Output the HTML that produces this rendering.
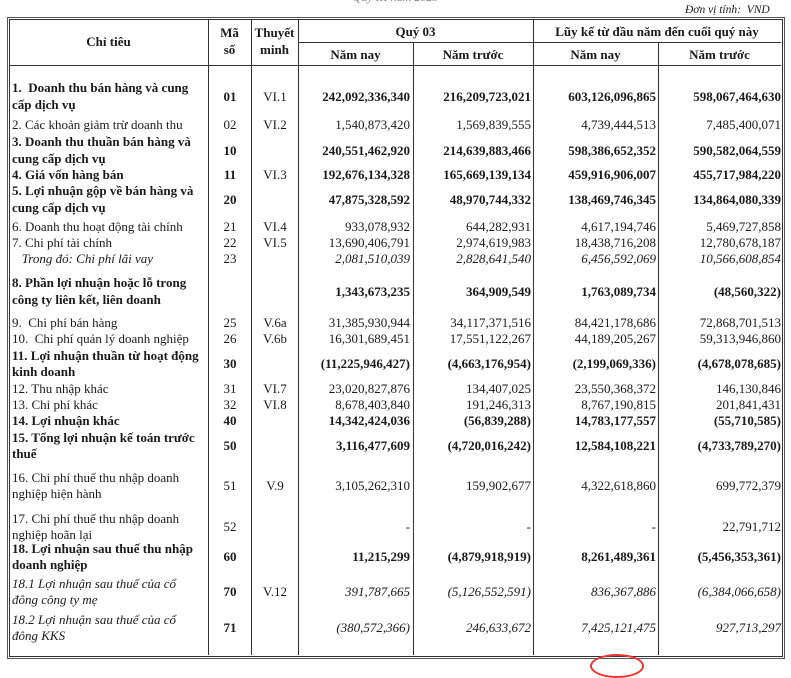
<!DOCTYPE html>
<html><head><meta charset="utf-8"><style>
body{margin:0;width:791px;height:663px;background:#fff;position:relative;overflow:hidden;font-family:"Liberation Serif","DejaVu Serif",serif;color:#1a1a1a;font-size:13px}
.a{position:absolute}
.v{position:absolute;top:20px;height:635px;border-left:1px solid #333}
.h{position:absolute;border-top:1px solid #333}
.row{position:absolute;left:0;width:791px}
.row>div{position:absolute;top:0;height:100%;display:flex;align-items:center}
.t{left:12px;width:190px;line-height:16.5px}
.m{left:208px;width:44px;justify-content:center}
.n{left:252px;width:46px;justify-content:center}
.c1,.c2,.c3,.c4{justify-content:flex-end;white-space:nowrap}
.c1{left:298px;width:112px}.c2{left:414px;width:117px}.c3{left:536px;width:120px}.c4{left:658px;width:123px}
.p{padding-right:5px}
.b{font-weight:bold}.i{font-style:italic}
.hd{font-weight:bold;text-align:center;position:absolute}
</style></head><body>
<div class="a i" style="left:0;top:-10px;width:791px;text-align:center;font-size:12px;color:#888">Quý III năm 2023</div>
<div class="a i" style="left:685px;top:4px;font-size:11.5px">Đơn vị tính:&nbsp; VND</div>
<div class="a" style="left:9px;top:19px;width:772px;height:636px;border:1px solid #333;outline:1px solid #555;outline-offset:1px"></div>
<div class="v" style="left:208px"></div><div class="v" style="left:251px"></div><div class="v" style="left:298px"></div>
<div class="v" style="left:413px;top:42px;height:613px"></div><div class="v" style="left:533px"></div><div class="v" style="left:658px;top:42px;height:613px"></div>
<div class="h" style="left:298px;width:483px;top:42px"></div>
<div class="h" style="left:9px;width:772px;top:65px"></div>
<div class="hd" style="left:9px;width:199px;top:34px">Chỉ tiêu</div>
<div class="hd" style="left:208px;width:43px;top:24px;line-height:17px">Mã<br>số</div>
<div class="hd" style="left:251px;width:47px;top:24px;line-height:17px">Thuyết<br>minh</div>
<div class="hd" style="left:298px;width:235px;top:24px">Quý 03</div>
<div class="hd" style="left:533px;width:248px;top:24px">Lũy kế từ đầu năm đến cuối quý này</div>
<div class="hd" style="left:298px;width:115px;top:47px">Năm nay</div>
<div class="hd" style="left:413px;width:120px;top:47px">Năm trước</div>
<div class="hd" style="left:533px;width:125px;top:47px">Năm nay</div>
<div class="hd" style="left:658px;width:123px;top:47px">Năm trước</div>

<div class="row b" style="top:78px;height:37px"><div class="t">1.&nbsp; Doanh thu bán hàng và cung cấp dịch vụ</div><div class="m">01</div><div class="n" style="font-weight:normal">VI.1</div><div class="c1 p">242,092,336,340</div><div class="c2 p">216,209,723,021</div><div class="c3 p">603,126,096,865</div><div class="c4 p">598,067,464,630</div></div>
<div class="row" style="top:117px;height:16px"><div class="t">2. Các khoản giảm trừ doanh thu</div><div class="m">02</div><div class="n">VI.2</div><div class="c1 p">1,540,873,420</div><div class="c2 p">1,569,839,555</div><div class="c3 p">4,739,444,513</div><div class="c4 p">7,485,400,071</div></div>
<div class="row b" style="top:134px;height:33px"><div class="t">3. Doanh thu thuần bán hàng và cung cấp dịch vụ</div><div class="m">10</div><div class="n"></div><div class="c1 p">240,551,462,920</div><div class="c2 p">214,639,883,466</div><div class="c3 p">598,386,652,352</div><div class="c4 p">590,582,064,559</div></div>
<div class="row b" style="top:167px;height:16px"><div class="t">4. Giá vốn hàng bán</div><div class="m">11</div><div class="n" style="font-weight:normal">VI.3</div><div class="c1 p">192,676,134,328</div><div class="c2 p">165,669,139,134</div><div class="c3 p">459,916,906,007</div><div class="c4 p">455,717,984,220</div></div>
<div class="row b" style="top:183px;height:33px"><div class="t">5. Lợi nhuận gộp về bán hàng và cung cấp dịch vụ</div><div class="m">20</div><div class="n"></div><div class="c1 p">47,875,328,592</div><div class="c2 p">48,970,744,332</div><div class="c3 p">138,469,746,345</div><div class="c4 p">134,864,080,339</div></div>
<div class="row" style="top:219px;height:16px"><div class="t">6. Doanh thu hoạt động tài chính</div><div class="m">21</div><div class="n">VI.4</div><div class="c1 p">933,078,932</div><div class="c2 p">644,282,931</div><div class="c3 p">4,617,194,746</div><div class="c4 p">5,469,727,858</div></div>
<div class="row" style="top:235px;height:16px"><div class="t">7. Chi phí tài chính</div><div class="m">22</div><div class="n">VI.5</div><div class="c1 p">13,690,406,791</div><div class="c2 p">2,974,619,983</div><div class="c3 p">18,438,716,208</div><div class="c4 p">12,780,678,187</div></div>
<div class="row i" style="top:251px;height:16px"><div class="t">&nbsp;&nbsp;&nbsp;Trong đó: Chi phí lãi vay</div><div class="m" style="font-style:normal">23</div><div class="n"></div><div class="c1 p">2,081,510,039</div><div class="c2 p">2,828,641,540</div><div class="c3 p">6,456,592,069</div><div class="c4 p">10,566,608,854</div></div>
<div class="row b" style="top:274px;height:35px"><div class="t">8. Phần lợi nhuận hoặc lỗ trong công ty liên kết, liên doanh</div><div class="m"></div><div class="n"></div><div class="c1 p">1,343,673,235</div><div class="c2 p">364,909,549</div><div class="c3 p">1,763,089,734</div><div class="c4">(48,560,322)</div></div>
<div class="row" style="top:315px;height:16px"><div class="t">9.&nbsp; Chi phí bán hàng</div><div class="m">25</div><div class="n">V.6a</div><div class="c1 p">31,385,930,944</div><div class="c2 p">34,117,371,516</div><div class="c3 p">84,421,178,686</div><div class="c4 p">72,868,701,513</div></div>
<div class="row" style="top:331px;height:16px"><div class="t" style="white-space:nowrap">10.&nbsp; Chi phí quản lý doanh nghiệp</div><div class="m">26</div><div class="n">V.6b</div><div class="c1 p">16,301,689,451</div><div class="c2 p">17,551,122,267</div><div class="c3 p">44,189,205,267</div><div class="c4 p">59,313,946,860</div></div>
<div class="row b" style="top:347px;height:34px"><div class="t">11. Lợi nhuận thuần từ hoạt động kinh doanh</div><div class="m">30</div><div class="n"></div><div class="c1">(11,225,946,427)</div><div class="c2">(4,663,176,954)</div><div class="c3">(2,199,069,336)</div><div class="c4">(4,678,078,685)</div></div>
<div class="row" style="top:381px;height:16px"><div class="t">12. Thu nhập khác</div><div class="m">31</div><div class="n">VI.7</div><div class="c1 p">23,020,827,876</div><div class="c2 p">134,407,025</div><div class="c3 p">23,550,368,372</div><div class="c4 p">146,130,846</div></div>
<div class="row" style="top:397px;height:16px"><div class="t">13. Chi phí khác</div><div class="m">32</div><div class="n">VI.8</div><div class="c1 p">8,678,403,840</div><div class="c2 p">191,246,313</div><div class="c3 p">8,767,190,815</div><div class="c4 p">201,841,431</div></div>
<div class="row b" style="top:413px;height:16px"><div class="t">14. Lợi nhuận khác</div><div class="m">40</div><div class="n"></div><div class="c1 p">14,342,424,036</div><div class="c2">(56,839,288)</div><div class="c3 p">14,783,177,557</div><div class="c4">(55,710,585)</div></div>
<div class="row b" style="top:429px;height:34px"><div class="t">15. Tổng lợi nhuận kế toán trước thuế</div><div class="m">50</div><div class="n"></div><div class="c1 p">3,116,477,609</div><div class="c2">(4,720,016,242)</div><div class="c3 p">12,584,108,221</div><div class="c4">(4,733,789,270)</div></div>
<div class="row" style="top:469px;height:34px"><div class="t">16. Chi phí thuế thu nhập doanh nghiệp hiện hành</div><div class="m">51</div><div class="n">V.9</div><div class="c1 p">3,105,262,310</div><div class="c2 p">159,902,677</div><div class="c3 p">4,322,618,860</div><div class="c4 p">699,772,379</div></div>
<div class="row" style="top:510px;height:34px"><div class="t">17. Chi phí thuế thu nhập doanh nghiệp hoãn lại</div><div class="m">52</div><div class="n"></div><div class="c1 p">-</div><div class="c2 p">-</div><div class="c3 p">-</div><div class="c4 p">22,791,712</div></div>
<div class="row b" style="top:540px;height:34px"><div class="t">18. Lợi nhuận sau thuế thu nhập doanh nghiệp</div><div class="m">60</div><div class="n"></div><div class="c1 p">11,215,299</div><div class="c2">(4,879,918,919)</div><div class="c3 p">8,261,489,361</div><div class="c4">(5,456,353,361)</div></div>
<div class="row i" style="top:575px;height:34px"><div class="t">18.1 Lợi nhuận sau thuế của cổ đông công ty mẹ</div><div class="m b" style="font-style:normal">70</div><div class="n" style="font-style:normal">V.12</div><div class="c1 p">391,787,665</div><div class="c2">(5,126,552,591)</div><div class="c3 p">836,367,886</div><div class="c4">(6,384,066,658)</div></div>
<div class="row i" style="top:611px;height:34px"><div class="t">18.2 Lợi nhuận sau thuế của cổ đông KKS</div><div class="m b" style="font-style:normal">71</div><div class="n"></div><div class="c1">(380,572,366)</div><div class="c2 p">246,633,672</div><div class="c3 p">7,425,121,475</div><div class="c4 p">927,713,297</div></div>
<div class="a" style="left:590px;top:654px;width:50px;height:20px;border:2px solid #e33;border-radius:50%"></div>
</body></html>
